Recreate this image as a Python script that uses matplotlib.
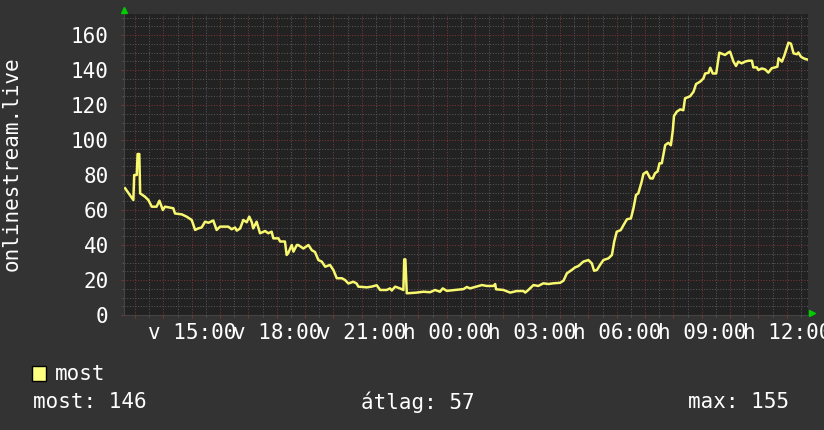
import matplotlib
matplotlib.use("Agg")
import matplotlib.pyplot as plt
from matplotlib.ticker import MultipleLocator, FixedLocator, FuncFormatter
from matplotlib.patches import Rectangle

# ---- data (time in hours since Sunday 00:00, value) ----
hours = [12.65, 12.94, 12.97, 13.06, 13.09, 13.15, 13.18, 13.35, 13.47, 13.59,
         13.76, 13.86, 13.98, 14.06, 14.35, 14.41, 14.65, 14.82, 15.00, 15.12,
         15.23, 15.35, 15.47, 15.59, 15.76, 15.88, 16.00, 16.29, 16.41, 16.53,
         16.59, 16.71, 16.82, 16.94, 17.03, 17.12, 17.17, 17.29, 17.41, 17.59,
         17.70, 17.82, 17.88, 18.06, 18.12, 18.29, 18.35, 18.40, 18.53, 18.59,
         18.71, 18.76, 18.94, 19.12, 19.24, 19.35, 19.47, 19.59, 19.71, 19.88,
         20.00, 20.12, 20.30, 20.41, 20.53, 20.70, 20.82, 20.88, 21.18, 21.35,
         21.53, 21.65, 21.88, 22.00, 22.06, 22.18, 22.35, 22.47, 22.50, 22.54,
         22.59, 22.94, 23.18, 23.41, 23.59, 23.76, 23.86, 24.00, 24.29, 24.59,
         24.71, 24.82, 25.00, 25.24, 25.41, 25.65, 25.71, 25.74, 26.00, 26.24,
         26.47, 26.71, 26.77, 26.88, 27.06, 27.23, 27.41, 27.59, 27.76, 28.00,
         28.12, 28.24, 28.41, 28.53, 28.65, 28.82, 29.00, 29.12, 29.20, 29.30,
         29.41, 29.53, 29.71, 29.83, 29.91, 30.00, 30.14, 30.24, 30.36, 30.50,
         30.59, 30.68, 30.76, 30.88, 30.94, 31.06, 31.18, 31.27, 31.35, 31.44,
         31.51, 31.59, 31.71, 31.82, 31.91, 31.98, 32.02, 32.12, 32.24, 32.35,
         32.41, 32.59, 32.71, 32.80, 32.94, 33.06, 33.12, 33.24, 33.30, 33.39,
         33.51, 33.55, 33.62, 33.82, 33.94, 34.00, 34.12, 34.21, 34.29, 34.41,
         34.53, 34.65, 34.77, 34.82, 34.94, 35.00, 35.12, 35.24, 35.35, 35.47,
         35.59, 35.67, 35.71, 35.83, 35.91, 35.98, 36.06, 36.15, 36.24, 36.36,
         36.41, 36.50, 36.59, 36.71, 36.75]
values = [72.4, 65.7, 80.0, 80.0, 92.0, 92.0, 69.5, 67.6, 65.7, 61.9,
          61.9, 65.3, 60.0, 61.9, 61.0, 58.0, 57.5, 56.2, 54.3, 48.6,
          49.5, 50.0, 53.3, 52.7, 54.0, 48.6, 50.5, 50.5, 49.0, 50.0,
          48.2, 49.5, 54.3, 53.0, 56.2, 53.0, 49.5, 53.3, 46.7, 48.0,
          46.7, 47.6, 43.8, 43.8, 42.0, 42.0, 34.3, 35.2, 40.0, 36.2,
          40.0, 40.0, 38.0, 40.0, 37.0, 36.0, 31.4, 30.5, 27.6, 28.6,
          25.7, 21.0, 21.0, 20.0, 18.0, 19.0, 18.0, 16.2, 15.8, 16.2,
          17.0, 14.3, 14.3, 15.2, 14.0, 16.2, 15.2, 14.3, 31.8, 31.8,
          12.4, 12.8, 13.3, 13.0, 14.3, 13.3, 15.2, 13.8, 14.3, 14.8,
          16.0, 15.2, 16.0, 17.1, 16.6, 16.6, 17.7, 14.7, 14.3, 12.8,
          13.7, 13.7, 12.8, 14.3, 17.1, 16.6, 18.1, 17.7, 18.1, 18.4,
          19.6, 23.8, 25.7, 27.2, 28.0, 30.5, 31.4, 29.5, 25.3, 25.7,
          28.6, 31.4, 32.4, 34.3, 41.9, 47.6, 48.5, 51.4, 54.7, 55.2,
          61.0, 68.6, 69.5, 76.2, 80.6, 81.9, 78.1, 78.0, 81.0, 82.0,
          86.7, 86.7, 97.1, 98.4, 97.0, 105.7, 113.7, 116.2, 117.5, 117.0,
          123.8, 125.0, 127.6, 132.0, 133.3, 135.2, 138.0, 138.4, 141.3, 138.0,
          138.0, 142.3, 149.9, 148.6, 150.0, 150.5, 144.8, 142.3, 144.8, 143.8,
          144.8, 145.3, 145.3, 141.5, 141.5, 140.0, 140.9, 140.3, 138.5, 141.0,
          141.5, 141.9, 146.7, 144.8, 148.0, 151.5, 155.6, 155.0, 149.5, 149.0,
          150.0, 147.6, 146.7, 146.0, 146.0]

x_tick_hours = [15, 18, 21, 24, 27, 30, 33, 36]
x_tick_labels = ["v 15:00", "v 18:00", "v 21:00", "h 00:00",
                 "h 03:00", "h 06:00", "h 09:00", "h 12:00"]
y_ticks = [0, 20, 40, 60, 80, 100, 120, 140, 160]
series_name = "most"
ylabel = "onlinestream.live"
stat_labels = ["most", "átlag", "max"]
stat_values = [146, 57, 155]

# ---- styling ----
W, H = 824, 430
BG = "#333333"
PLOT_BG = "#222222"
MAJOR = "#7a3535"
MINOR = "#565656"
LINE = "#f8f870"
FONT = "DejaVu Sans Mono"
FS = 15

fig = plt.figure(figsize=(W / 100, H / 100), dpi=100, facecolor=BG)
ax = fig.add_axes([124 / W, (H - 315) / H, (808 - 124) / W, (315 - 14) / H])
ax.set_facecolor(PLOT_BG)

ax.plot(hours, values, color=LINE, lw=1.8, zorder=3)
ax.set_xlim(12.61, 36.75)
ax.set_ylim(0, 172)

label_map = dict(zip(x_tick_hours, x_tick_labels))
ax.xaxis.set_major_locator(MultipleLocator(1))
ax.xaxis.set_minor_locator(MultipleLocator(0.5))
ax.xaxis.set_major_formatter(FuncFormatter(lambda v, p: label_map.get(int(round(v)), "")))
ax.yaxis.set_major_locator(FixedLocator(y_ticks))
ax.yaxis.set_minor_locator(MultipleLocator(5))

dots = (0, (1, 1.6))
ax.grid(which="minor", color=MINOR, linestyle=dots, lw=0.75, zorder=1)
ax.grid(which="major", color=MAJOR, linestyle=dots, lw=0.75, zorder=1)
ax.set_axisbelow(True)

ax.tick_params(axis="both", which="major", color=MAJOR, length=2.5, width=0.8,
               labelcolor="white", labelsize=FS)
ax.tick_params(axis="both", which="minor", color=MINOR, length=1.5, width=0.8)
ax.tick_params(axis="x", which="major", pad=3)
ax.tick_params(axis="y", which="major", pad=8.5)
for lab in ax.get_xticklabels() + ax.get_yticklabels():
    lab.set_fontfamily(FONT)

for s in ["top", "right"]:
    ax.spines[s].set_visible(False)
for s in ["left", "bottom"]:
    ax.spines[s].set_color("#444444")
    ax.spines[s].set_linewidth(0.8)

# arrows
ax.plot([0], [1.013], transform=ax.transAxes, marker="^", ms=4.5,
        color="#00cc00", clip_on=False, zorder=5)
ax.plot([1.006], [0.006], transform=ax.transAxes, marker=">", ms=4.5,
        color="#00cc00", clip_on=False, zorder=5)

# y label
fig.text(12 / W, 1 - 164 / H, ylabel, rotation=90, ha="center", va="center",
         color="white", fontsize=FS, fontfamily=FONT)

# legend
fig.patches.append(Rectangle((32 / W, 1 - 381 / H), 14 / W, 15 / H,
                             transform=fig.transFigure, facecolor="#ffff80",
                             edgecolor="black", lw=1))
fig.text(55 / W, 1 - 374 / H, series_name, ha="left", va="center",
         color="white", fontsize=FS, fontfamily=FONT)
xs = [33, 361, 688]
for x, lab, val in zip(xs, stat_labels, stat_values):
    fig.text(x / W, 1 - 402 / H, f"{lab}: {val}", ha="left", va="center",
             color="white", fontsize=FS, fontfamily=FONT)

fig.savefig("out.png", dpi=100, facecolor=BG)
